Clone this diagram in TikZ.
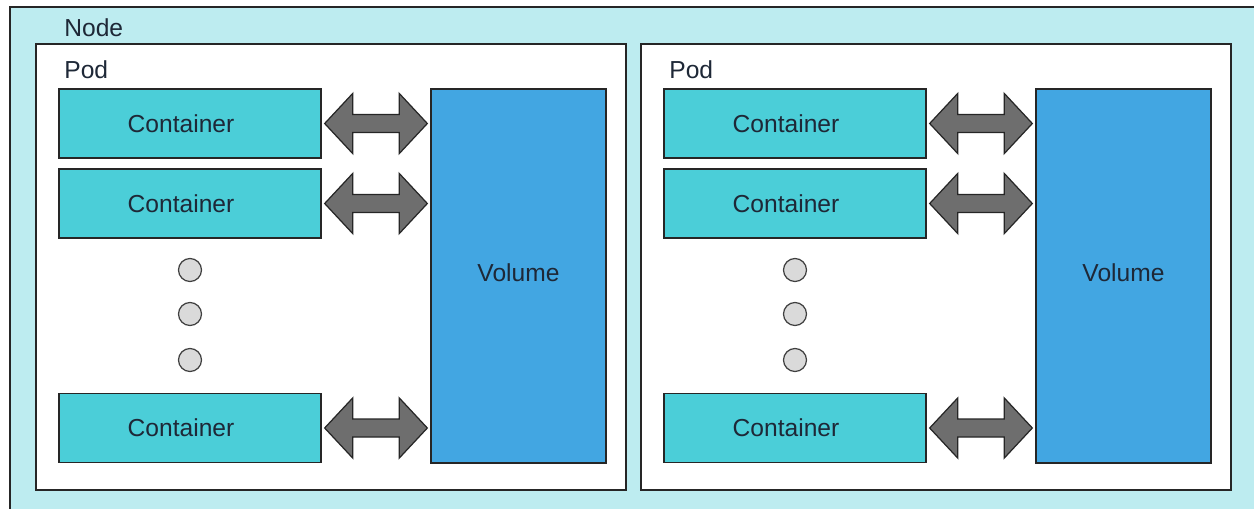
\documentclass[tikz,border=0pt]{standalone}
\usepackage{fontspec}
\setmainfont{Liberation Sans}
\usetikzlibrary{calc}

\definecolor{nodebg}{RGB}{189,236,240}
\definecolor{contfill}{RGB}{75,206,216}
\definecolor{volfill}{RGB}{66,166,226}
\definecolor{inkcol}{RGB}{30,40,55}
\definecolor{dotfill}{RGB}{218,218,218}

\tikzset{
	every node/.style={font=\fontsize{14}{16}\selectfont, text=inkcol},
	framebox/.style={draw=black!85, line width=0.8pt},
	podbox/.style={framebox, fill=white, minimum width=11.8cm, minimum height=8.92cm, inner sep=0pt},
	container/.style={framebox, fill=contfill, minimum width=5.24cm, minimum height=1.38cm, inner sep=0pt,
		execute at end node=\hspace*{0.36cm}},
	volume/.style={framebox, fill=volfill, minimum width=3.5cm, minimum height=7.48cm, inner sep=0pt},
	dotmark/.style={circle, draw=black!75, fill=dotfill, line width=0.7pt, minimum size=0.46cm, inner sep=0pt},
	boxlabel/.style={anchor=west, inner sep=0pt},
	fatarrow/.style={fill=black!57, draw=black!85, line width=0.7pt, line join=miter}
}

% double arrow from a container to its volume
\newcommand{\dblarrow}[2]{%
	\coordinate (aa) at ([xshift=0.06cm]#1.east);
	\coordinate (bb) at ([xshift=-0.06cm]#1.east -| #2.west);
	\draw[fatarrow] (aa) -- ++(28,-30) -- ++(0,21) -- ($(bb)+(-28,-9)$) -- ++(0,-21)
		-- (bb) -- ++(-28,30) -- ++(0,-21) -- ($(aa)+(28,9)$) -- ++(0,21) -- cycle;
}

\begin{document}
\begin{tikzpicture}[x=0.02cm, y=-0.02cm]
	\clip (0,0) rectangle (1254,508);
	\fill[white] (0,0) rectangle (1254,508);

	% Node
	\draw[framebox, fill=nodebg] (10,7) rectangle (1280,540);
	\node[boxlabel] (nodelabel) at (64,28) {Node};

	% Pods
	\foreach \p/\dx in {1/0, 2/605} {
		\node[podbox] (pod\p) at ({331+\dx},267) {};
		\node[boxlabel] (podlabel\p) at ({64+\dx},70) {Pod};

		\foreach \i/\y in {1/123.5, 2/203.5, 3/428}
			\node[container] (c\p-\i) at ({190+\dx},\y) {Container};

		\node[volume] (v\p) at ({518.5+\dx},276) {\raisebox{0.12cm}{Volume}};

		% dots
		\foreach \j/\y in {1/270, 2/314, 3/360}
			\node[dotmark] (dot\p-\j) at ({190+\dx},\y) {};

		% arrows
		\foreach \i in {1,2,3}
			\dblarrow{c\p-\i}{v\p};
	}
\end{tikzpicture}
\end{document}
